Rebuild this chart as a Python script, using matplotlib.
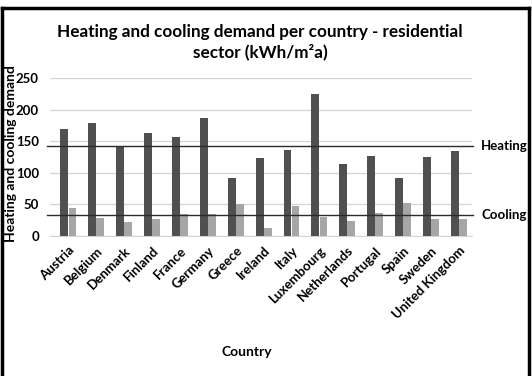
import matplotlib.pyplot as plt
import numpy as np
from matplotlib.lines import Line2D

plt.rcParams["font.family"] = ["Lato", "DejaVu Sans"]

countries = [
    "Austria", "Belgium", "Denmark", "Finland", "France", "Germany", "Greece",
    "Ireland", "Italy", "Luxembourg", "Netherlands", "Portugal", "Spain",
    "Sweden", "United Kingdom",
]
heating = [170, 179, 143, 163, 157, 186, 91, 124, 136, 225, 114, 126, 92, 125, 134]
cooling = [45, 28, 22, 27, 35, 35, 51, 12, 47, 30, 23, 37, 52, 27, 27]

# average levels drawn as reference lines
heating_avg = 143
cooling_avg = 33

fig = plt.figure(figsize=(5.32, 3.76), dpi=100)
ax = fig.add_axes([50 / 532, 1 - 236 / 376, 422 / 532, 158 / 376])

x = np.arange(len(countries))
w = 0.28
ax.bar(x - 0.145, heating, width=w, color="#505050", zorder=3)
ax.bar(x + 0.145, cooling, width=w, color="#a6a6a6", zorder=3)

ax.set_xlim(-0.66, 14.47)
ax.set_ylim(0, 250)
ax.set_yticks(range(0, 251, 50))
ax.yaxis.grid(True, color="#d4d4d4", linewidth=0.9, zorder=0)
ax.set_axisbelow(True)
for side in ["top", "right", "left"]:
    ax.spines[side].set_visible(False)
ax.spines["bottom"].set_color("#d4d4d4")
ax.tick_params(length=0)
ax.tick_params(axis="y", pad=8)

for label in ax.get_yticklabels():
    label.set_fontsize(9.5)
    label.set_fontweight("bold")

ax.set_xticks(x)
ax.set_xticklabels(countries, rotation=45, ha="right", rotation_mode="anchor",
                   fontsize=9.5, fontweight="bold")
ax.tick_params(axis="x", pad=6)

for val, name in [(heating_avg, "Heating"), (cooling_avg, "Cooling")]:
    ax.axhline(val, xmin=-0.008, xmax=1.003, color="#2b2b2b", linewidth=1.0,
               zorder=4, clip_on=False)
    ax.text(1.022, val, name, transform=ax.get_yaxis_transform(), va="center",
            ha="left", fontsize=9.5, fontweight="bold")

fig.text(11 / 532, 1 - 154 / 376, "Heating and cooling demand", rotation=90,
         ha="center", va="center", fontsize=10, fontweight="bold")
fig.text(247 / 532, 1 - 352 / 376, "Country", ha="center", va="center",
         fontsize=10, fontweight="bold")

fig.text(260 / 532, 1 - 42 / 376,
         "Heating and cooling demand per country - residential\nsector (kWh/m\u00b2a)",
         ha="center", va="center", fontsize=12.3, fontweight="bold",
         linespacing=1.25)

# frame around the whole chart
frame = dict(color="black", linewidth=2.5, transform=fig.transFigure)
fig.add_artist(Line2D([2 / 532, 2 / 532], [0, 1 - 8 / 376], **frame))
fig.add_artist(Line2D([2 / 532, 529 / 532], [1 - 8 / 376, 1 - 8 / 376], **frame))
fig.add_artist(Line2D([529 / 532, 529 / 532], [0, 1 - 8 / 376], **frame))

fig.savefig("out.png", dpi=100)
